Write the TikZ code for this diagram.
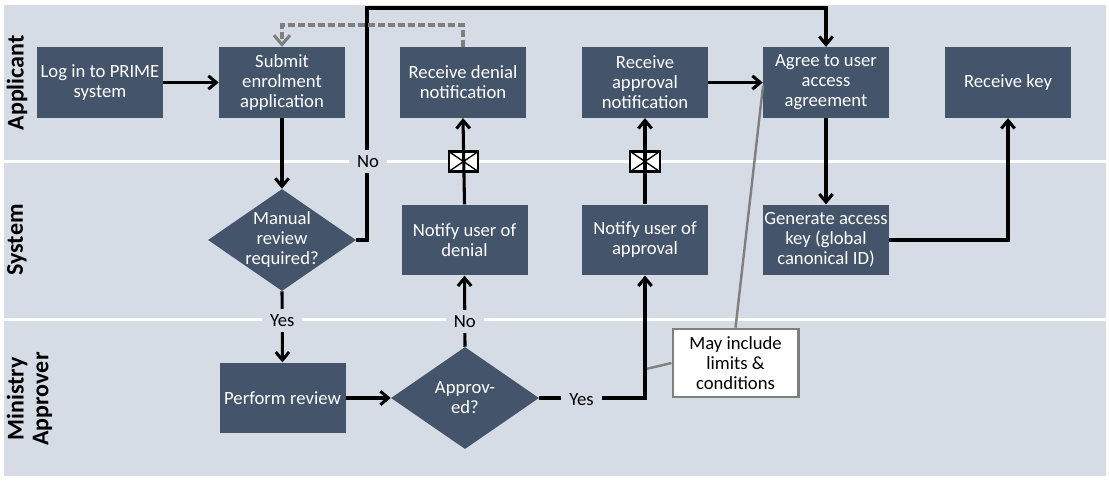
\documentclass[tikz,border=0pt]{standalone}
\usepackage{fontspec}
\setmainfont{Carlito}
\usepackage{xcolor}
\usetikzlibrary{arrows.meta,positioning,calc,shapes.geometric}
\definecolor{cSlate}{HTML}{44546A}
\definecolor{cBand}{HTML}{D6DCE5}
\definecolor{cGray}{HTML}{7F7F7F}
\tikzset{
  pbox/.style={draw=none,fill=cSlate,align=center,font=\fontsize{14}{15}\selectfont,inner sep=0pt,text=white,minimum width=94.5pt,minimum height=53pt},
  qdia/.style={diamond,aspect=1.45,draw=none,fill=cSlate,align=center,font=\fontsize{14}{15}\selectfont,inner sep=-4pt,text=white,minimum width=111pt,minimum height=76.5pt},
  notebox/.style={draw=cGray,fill=white,line width=2pt,align=center,font=\fontsize{14}{15}\selectfont,inner sep=0pt,text=black,minimum width=94pt,minimum height=51pt},
  arr/.style={-{Straight Barb[length=6pt,width=10pt]},line width=2.3pt,color=black},
  garr/.style={-{Straight Barb[length=7pt,width=12pt]},line width=2.3pt,color=cGray,dash pattern=on 5pt off 2.5pt},
  gline/.style={line width=1.8pt,color=cGray},
  lbl/.style={font=\fontsize{14}{15}\selectfont,text=black,fill=cBand,inner xsep=6pt,inner ysep=4pt},
  lane/.style={font=\bfseries\fontsize{18}{18.5}\selectfont,rotate=90,align=center,text=black},
  band/.style={fill=cBand,draw=none},
  envbox/.style={draw=black,fill=white,line width=1.6pt,minimum width=22pt,minimum height=15pt,inner sep=0pt,
    path picture={\draw[line width=1pt,black] (path picture bounding box.north west) -- (path picture bounding box.south east) (path picture bounding box.south west) -- (path picture bounding box.north east);}},
}

\begin{document}
\begin{tikzpicture}[x=0.75pt,y=-0.75pt]
  \useasboundingbox (0,0) rectangle (1109,480);
  % swim lanes
  \fill[band] (4,5) rectangle (1106,160);
  \fill[band] (4,163) rectangle (1106,318);
  \fill[band] (4,321) rectangle (1106,476);
  \node[lane] (laneapp) at (17,83) {Applicant};
  \node[lane] (lanesys) at (17,240) {System};
  \node[lane] (lanemin) at (29.5,399) {Ministry\\Approver};
  % steps
  \node[pbox] (login) at (100,82.5) {Log in to PRIME\\system};
  \node[pbox] (submit) at (282,82.5) {Submit\\enrolment\\application};
  \node[pbox] (recvdenial) at (463,82.5) {Receive denial\\notification};
  \node[pbox] (recvappr) at (645,82.5) {Receive\\approval\\notification};
  \node[pbox] (agree) at (826,82.5) {Agree to user\\access\\agreement};
  \node[pbox] (recvkey) at (1008,82.5) {Receive key};
  \node[qdia] (manual) at (282,240) {Manual\\review\\required?};
  \node[pbox] (notifydenial) at (464.5,240) {Notify user of\\denial};
  \node[pbox] (notifyappr) at (645,240) {Notify user of\\approval};
  \node[pbox] (genkey) at (826,240) {Generate access\\key (global\\canonical ID)};
  \node[pbox] (review) at (282.5,398) {Perform review};
  \node[qdia] (approved) at (465,398) {Approv-\\ed?};
  \node[notebox] (limits) at (735.5,363) {May include\\limits \&\\conditions};
  \node[envbox] (envdenial) at (463.5,161.5) {};
  \node[envbox] (envappr) at (645,161.5) {};
  \coordinate (noturn) at (367,240);
  \coordinate (notop) at (367,8);
  \coordinate (dashup) at (463,25);
  \coordinate (dashleft) at (282,25);
  \coordinate (noteagree) at (763,86);
  \coordinate (noteline) at (646,369);
  % connectors
  \draw[gline] (limits.north) -- (noteagree);
  \draw[gline] (limits.west) -- (noteline);
  \draw[arr] (login) -- (submit);
  \draw[arr] (submit) -- (manual);
  \draw[arr] (manual.east) -- (noturn) -- node[lbl,pos=0.34,xshift=0.8pt] (lblno) {No} (notop) -| (agree.north);
  \draw[garr] (recvdenial.north) -- (dashup) -- (dashleft) -- (submit.north);
  \draw[arr] (manual.south) -- node[lbl,pos=0.4,yshift=-0.8pt] (lblyes) {Yes} (review.north);
  \draw[arr] (review) -- (approved);
  \draw[arr] (approved.north) -- node[lbl,pos=0.375,yshift=-0.8pt] (lblnot) {No} (notifydenial.south);
  \draw[arr] (approved.east) -| node[lbl,pos=0.2,yshift=-1.2pt] (lblok) {Yes} (notifyappr.south);
  \draw[arr] (notifydenial.north) -- (recvdenial.south);
  \draw[arr] (notifyappr.north) -- (recvappr.south);
  \draw[arr] (recvappr) -- (agree);
  \draw[arr] (agree) -- (genkey);
  \draw[arr] (genkey.east) -| (recvkey.south);
\end{tikzpicture}
\end{document}
